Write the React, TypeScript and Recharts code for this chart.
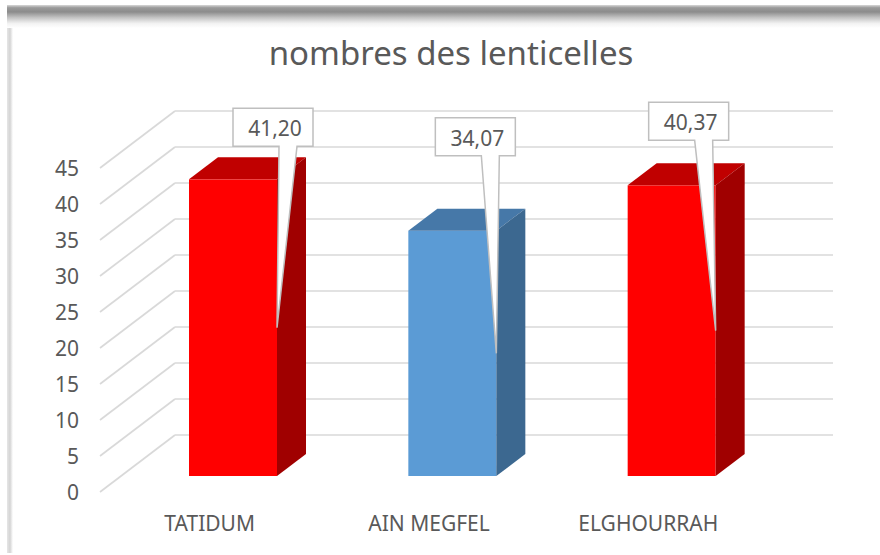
import React from 'react';
import { BarChart, Bar, XAxis, YAxis, CartesianGrid } from 'recharts';

const categories = ['TATIDUM', 'AIN MEGFEL', 'ELGHOURRAH'];
const lenticelles = [41.2, 34.07, 40.37];
const barTones = ['red', 'blue', 'red'];
const yTicks = [0, 5, 10, 15, 20, 25, 30, 35, 40, 45];

const data = categories.map((name, i) => ({ name, value: lenticelles[i], tone: barTones[i] }));

const tones: Record<string, { front: string; top: string; side: string }> = {
  red: { front: '#FF0000', top: '#C00000', side: '#A00000' },
  blue: { front: '#5B9BD5', top: '#4678A8', side: '#3C6890' },
};

// callout box placement, relative to the bar's front right edge / top
const calloutShift = [
  { dx: -44, dy: -71 },
  { dx: -61, dy: -113 },
  { dx: -67, dy: -83 },
];

const FONT = "'Noto Sans', sans-serif";
const TEXT = '#595959';
const GRID = '#D9D9D9';
// 3d offsets
const WALL_DX = 75;
const WALL_DY = 57;
const BAR_DX0 = 23;
const BAR_DY0 = 16;
const DEPTH_X = 29;
const DEPTH_Y = 22;

const fmt = (v: number) => v.toFixed(2).replace('.', ',');

const gridLine = (p: any) => {
  const { x1, y1, x2, index } = p;
  return (
    <g key={`g-${index}-${y1}`}>
      <line x1={x1} y1={y1} x2={x1 + WALL_DX} y2={y1 - WALL_DY} stroke={GRID} strokeWidth={1.7} />
      <line x1={x1 + WALL_DX} y1={y1 - WALL_DY} x2={x2 + WALL_DX} y2={y1 - WALL_DY} stroke={GRID} strokeWidth={1.7} />
    </g>
  );
};

const Bar3D = (props: any) => {
  const { x, y, width, height, payload, index } = props;
  const c = tones[payload.tone];
  const fx = x + BAR_DX0;
  const ty = y - BAR_DY0;
  const by = y + height - BAR_DY0;
  const rx = fx + width;
  const top = `${fx},${ty} ${fx + DEPTH_X},${ty - DEPTH_Y} ${rx + DEPTH_X},${ty - DEPTH_Y} ${rx},${ty}`;
  const side = `${rx},${ty} ${rx + DEPTH_X},${ty - DEPTH_Y} ${rx + DEPTH_X},${by - DEPTH_Y} ${rx},${by}`;

  const s = calloutShift[index] || { dx: -50, dy: -80 };
  const bl = rx + s.dx;
  const bt = ty + s.dy;
  const bw = 80;
  const bh = 38;
  const tipX = rx;
  const tipY = (ty + by) / 2;
  const callout = `M${bl},${bt} H${bl + bw} V${bt + bh} H${bl + 64} L${tipX},${tipY} L${bl + 46},${bt + bh} H${bl} Z`;

  return (
    <g>
      <rect x={fx} y={ty} width={width} height={by - ty} fill={c.front} />
      <polygon points={top} fill={c.top} />
      <polygon points={side} fill={c.side} />
      <path d={callout} fill="#FFFFFF" stroke="#BFBFBF" strokeWidth={1.5} strokeLinejoin="miter" />
      <text x={bl + bw / 2 + 2} y={bt + 28} textAnchor="middle" fontFamily={FONT} fontSize={21} fill={TEXT}>
        {fmt(payload.value)}
      </text>
    </g>
  );
};

const YTick = (props: any) => {
  const { x, y, payload } = props;
  return (
    <text x={x - 21} y={y + 8} textAnchor="end" fontFamily={FONT} fontSize={21} fill={TEXT}>
      {payload.value}
    </text>
  );
};

const XTick = (props: any) => {
  const { x, y, payload } = props;
  return (
    <text x={x} y={y + 39} textAnchor="middle" fontFamily={FONT} fontSize={21} fill={TEXT}>
      {payload.value}
    </text>
  );
};

export default function App() {
  return (
    <div style={{ position: 'absolute', left: 0, top: 0, width: 880, height: 555, background: '#FFFFFF' }}>
      <svg width={880} height={555} style={{ position: 'absolute', left: 0, top: 0 }}>
        <defs>
          <linearGradient id="topShade" x1="0" y1="0" x2="0" y2="1">
            <stop offset="0" stopColor="#D8D8D8" />
            <stop offset="0.12" stopColor="#9A9A9A" />
            <stop offset="0.3" stopColor="#8C8C8C" />
            <stop offset="0.55" stopColor="#C4C4C4" />
            <stop offset="0.8" stopColor="#F2F2F2" />
            <stop offset="1" stopColor="#FFFFFF" />
          </linearGradient>
          <linearGradient id="leftShade" x1="0" y1="0" x2="1" y2="0">
            <stop offset="0" stopColor="#E6E6E6" />
            <stop offset="0.5" stopColor="#D4D4D4" />
            <stop offset="1" stopColor="#FFFFFF" />
          </linearGradient>
        </defs>
        <rect x={7} y={5} width={6} height={548} fill="url(#leftShade)" />
        <rect x={7} y={5} width={873} height={23} fill="url(#topShade)" />
        <text x={451} y={65} textAnchor="middle" fontFamily={FONT} fontSize={33} fill={TEXT}>
          nombres des lenticelles
        </text>
      </svg>
      <div style={{ position: 'absolute', left: 0, top: 0 }}>
        <BarChart
          width={880}
          height={555}
          data={data}
          margin={{ top: 168, right: 122, bottom: 23, left: 10 }}
          barSize={88}
        >
          <CartesianGrid horizontal={gridLine} vertical={false} />
          <XAxis
            dataKey="name"
            axisLine={false}
            tickLine={false}
            tickSize={0}
            tickMargin={0}
            height={40}
            tick={<XTick />}
            interval={0}
          />
          <YAxis
            domain={[0, 45]}
            ticks={yTicks}
            axisLine={false}
            tickLine={false}
            tickSize={0}
            tickMargin={0}
            width={90}
            tick={<YTick />}
            interval={0}
          />
          <Bar dataKey="value" shape={Bar3D} isAnimationActive={false} />
        </BarChart>
      </div>
    </div>
  );
}
